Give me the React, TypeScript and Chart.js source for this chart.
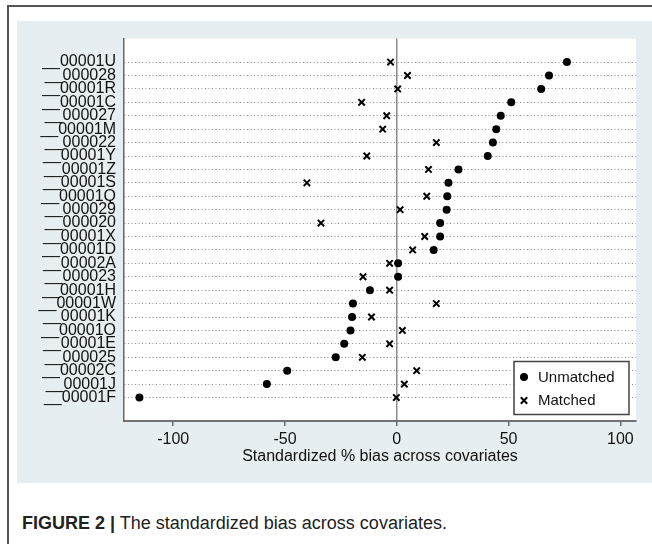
import React, { useEffect, useRef } from 'react';
import { Chart, registerables } from 'chart.js';

Chart.register(...registerables);

const categories = ['00001U', '000028', '00001R', '00001C', '000027', '00001M', '000022', '00001Y', '00001Z', '00001S', '00001Q', '000029', '000020', '00001X', '00001D', '00002A', '000023', '00001H', '00001W', '00001K', '00001O', '00001E', '000025', '00002C', '00001J', '00001F'];
const unmatched = [76.1, 68.1, 64.6, 51.2, 46.5, 44.5, 43.0, 40.7, 27.6, 23.1, 22.6, 22.3, 19.4, 19.4, 16.5, 0.6, 0.6, -12.0, -19.6, -20.0, -20.7, -23.5, -27.3, -49.0, -58.1, -115.1];
const matched = [-2.8, 4.8, 0.4, -15.7, -4.5, -6.3, 17.7, -13.4, 14.2, -40.2, 13.4, 1.5, -33.9, 12.5, 7.1, -3.2, -15.1, -3.2, 17.7, -11.3, 2.5, -3.2, -15.4, 8.9, 3.4, -0.2];
const xTicks = [-100, -50, 0, 50, 100];
const seriesLabels = ['Unmatched', 'Matched'];
const xTitle = 'Standardized % bias across covariates';

const FONT = "'Liberation Sans', Arial, Helvetica, sans-serif";

const whiteArea = {
  id: 'whiteArea',
  beforeDraw(chart: any) {
    const { ctx, chartArea } = chart;
    ctx.save();
    ctx.fillStyle = '#ffffff';
    ctx.fillRect(chartArea.left, chartArea.top, chartArea.right - chartArea.left, chartArea.bottom - chartArea.top);
    ctx.restore();
  },
};

const insideLegend = {
  id: 'insideLegend',
  afterDraw(chart: any) {
    const { ctx, chartArea } = chart;
    const w = 115;
    const h = 53;
    const x = chartArea.right - 7 - w;
    const y = chartArea.bottom - 6.5 - h;
    ctx.save();
    ctx.fillStyle = '#ffffff';
    ctx.fillRect(x, y, w, h);
    ctx.strokeStyle = '#444';
    ctx.lineWidth = 1.5;
    ctx.strokeRect(x, y, w, h);
    ctx.font = `15px ${FONT}`;
    ctx.textBaseline = 'middle';
    ctx.textAlign = 'left';
    chart.data.datasets.forEach((ds: any, i: number) => {
      const cy = y + 15.5 + i * 23.5;
      const cx = x + 10;
      ctx.fillStyle = '#000';
      ctx.strokeStyle = '#000';
      if (ds.pointStyle === 'circle') {
        ctx.beginPath();
        ctx.arc(cx, cy, 4, 0, Math.PI * 2);
        ctx.fill();
      } else {
        const d = 3.2;
        ctx.lineWidth = 2;
        ctx.beginPath();
        ctx.moveTo(cx - d, cy - d);
        ctx.lineTo(cx + d, cy + d);
        ctx.moveTo(cx - d, cy + d);
        ctx.lineTo(cx + d, cy - d);
        ctx.stroke();
      }
      ctx.fillStyle = '#111';
      ctx.fillText(ds.label, x + 24, cy + 0.5);
    });
    ctx.restore();
  },
};

function ChartView() {
  const ref = useRef<HTMLCanvasElement | null>(null);
  useEffect(() => {
    if (!ref.current) return;
    const chart = new Chart(ref.current, {
      type: 'scatter',
      data: {
        datasets: [
          {
            label: seriesLabels[0],
            data: unmatched.map((v, i) => ({ x: v, y: i })),
            pointStyle: 'circle',
            pointRadius: 4,
            backgroundColor: '#000',
            borderColor: '#000',
            borderWidth: 0,
          },
          {
            label: seriesLabels[1],
            data: matched.map((v, i) => ({ x: v, y: i })),
            pointStyle: 'crossRot',
            pointRadius: 4.5,
            backgroundColor: '#000',
            borderColor: '#000',
            borderWidth: 2,
          },
        ],
      },
      options: {
        animation: false,
        responsive: false,
        devicePixelRatio: 1,
        layout: { padding: { top: 17, right: 16, left: 0, bottom: 0 } },
        plugins: { legend: { display: false }, tooltip: { enabled: false } },
        scales: {
          x: {
            type: 'linear',
            min: -122,
            max: 107,
            afterBuildTicks: (s: any) => {
              s.ticks = xTicks.map((v) => ({ value: v }));
            },
            afterFit: (s: any) => {
              s.height = 62;
            },
            ticks: { color: '#111', font: { size: 16, family: FONT }, padding: 4, autoSkip: false, maxRotation: 0 },
            grid: {
              drawOnChartArea: true,
              color: (c: any) => (c.tick && c.tick.value === 0 ? '#8c8c8c' : 'rgba(0,0,0,0)'),
              lineWidth: 1.5,
              drawTicks: true,
              tickLength: 5,
              tickColor: '#666',
              tickWidth: 1.5,
            },
            border: { display: true, color: '#707070', width: 2 },
            title: { display: true, text: xTitle, color: '#111', font: { size: 16, family: FONT }, padding: { top: 0, bottom: 17 } },
          },
          y: {
            type: 'linear',
            reverse: true,
            min: -1.75,
            max: 26.75,
            afterBuildTicks: (s: any) => {
              s.ticks = categories.map((_, i) => ({ value: i }));
            },
            afterFit: (s: any) => {
              s.width = 107;
            },
            ticks: {
              color: '#111',
              font: { size: 16, family: FONT },
              padding: 8,
              autoSkip: false,
              callback: (v: any) => {
                const c = categories[Math.round(Number(v))];
                return c ? '__' + c : '';
              },
            },
            grid: { color: '#8c8c8c', lineWidth: 1, drawTicks: false },
            border: { display: true, color: '#666', width: 1.5, dash: [1, 2.5] },
          },
        },
      },
      plugins: [whiteArea, insideLegend],
    } as any);
    return () => chart.destroy();
  }, []);
  return <canvas ref={ref} width={635} height={462} style={{ position: 'absolute', left: 17, top: 21, width: 635, height: 462 }} />;
}

export default function App() {
  return (
    <div style={{ position: 'fixed', left: 0, top: 0, width: 652, height: 544, background: '#fff', overflow: 'hidden', fontFamily: FONT }}>
      <div style={{ position: 'absolute', left: 7, top: 5, width: 660, height: 560, borderTop: '2px solid #555', borderLeft: '2px solid #555' }} />
      <div style={{ position: 'absolute', left: 17, top: 21, width: 635, height: 462, background: '#e7eef1' }} />
      <ChartView />
      <div style={{ position: 'absolute', left: 22, top: 514, fontSize: 18, lineHeight: '18px', color: '#222', whiteSpace: 'nowrap' }}>
        <b>FIGURE 2 |</b> The standardized bias across covariates.
      </div>
    </div>
  );
}
